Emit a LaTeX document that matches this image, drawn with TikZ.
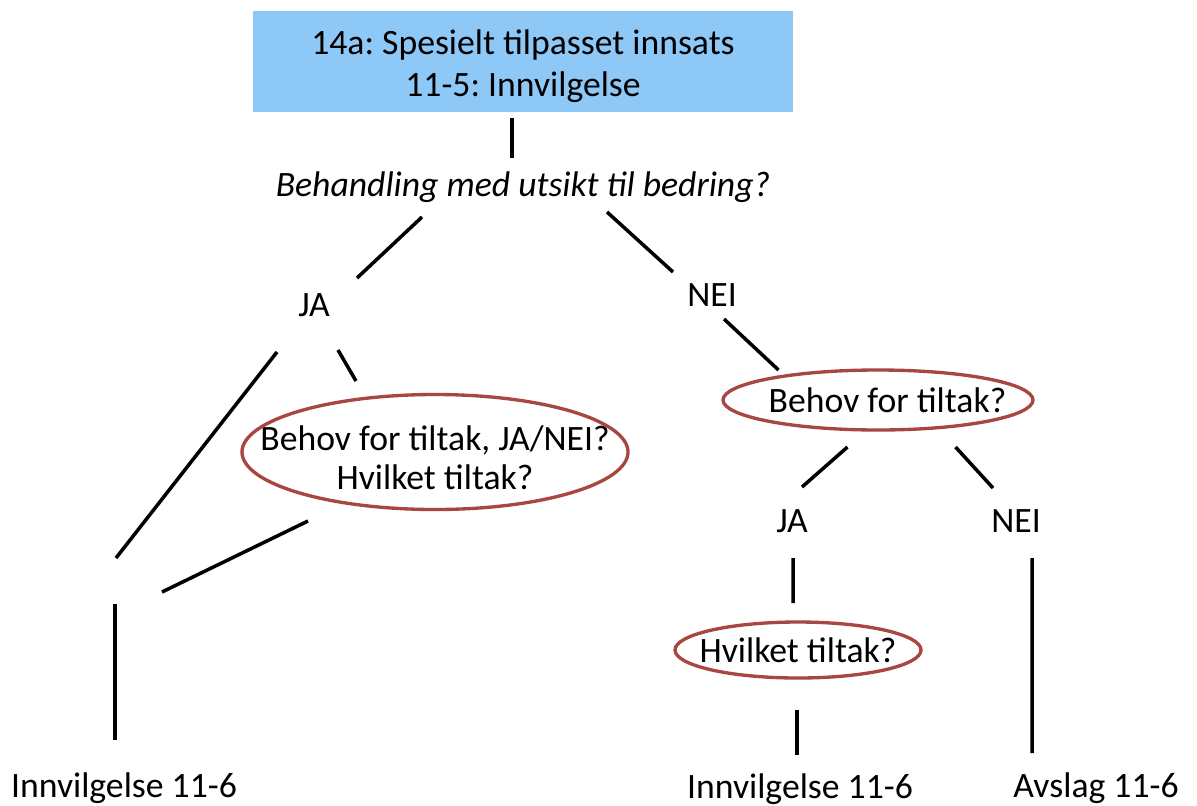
\documentclass[tikz,border=0pt]{standalone}
\usepackage{fontspec}
\setmainfont{Carlito}
\usetikzlibrary{calc,shapes.geometric}
\definecolor{boxblue}{RGB}{142,200,246}
\definecolor{ringred}{RGB}{168,70,66}
\tikzset{
  branch/.style={line width=2pt},
  ring/.style={draw=ringred, line width=1.9pt},
}
\frenchspacing
\begin{document}
\begin{tikzpicture}[every node/.style={font=\fontsize{20.3}{24}\selectfont, align=center}]
\useasboundingbox (0,0) rectangle (23.94,-16.10);

% nodes
\node[fill=boxblue, minimum width=10.8cm, minimum height=2.02cm] (top) at (10.46,-1.22) {};
\node (toptext) at ($(top)+(0,-0.1)$) {14a: Spesielt tilpasset innsats\\11-5: Innvilgelse};
\node (q) at (10.46,-3.74) {\itshape Behandling med utsikt til bedring?};
\node (ja1) at (6.28,-6.10) {JA};
\node (nei1) at (14.24,-5.90) {NEI};
\node[font=\fontsize{20.3}{22}\selectfont] (ell1) at (8.70,-9.16) {Behov for tiltak, JA/NEI?\\Hvilket tiltak?};
\node (ell2) at (17.75,-8.00) {Behov for tiltak?};
\node (ja2) at (15.84,-10.42) {JA};
\node (nei2) at (20.32,-10.42) {NEI};
\node (ell3) at (15.96,-13.00) {Hvilket tiltak?};
\node (inv1) at (2.48,-15.76) {Innvilgelse 11-6};
\node (inv2) at (16.00,-15.78) {Innvilgelse 11-6};
\node (avs) at (21.92,-15.76) {Avslag 11-6};
\coordinate (fork) at (2.30,-11.80);

% rings
\draw[ring] ($(ell1)+(0,0.12)$) ellipse [x radius=3.86, y radius=1.15];
\draw[ring] ($(ell2)+(-0.19,0)$) ellipse [x radius=3.10, y radius=0.60];
\draw[ring] (ell3) ellipse [x radius=2.46, y radius=0.56];

% branches
\draw[branch] ($(top)+(-0.22,-1.14)$) -- ($(q)+(-0.22,0.58)$);
\draw[branch] ($(q)+(-2.02,-0.60)$) -- ($(ja1)+(0.86,0.54)$);
\draw[branch] ($(q)+(1.68,-0.50)$) -- ($(nei1)+(-0.78,0.46)$);
\draw[branch] ($(ja1)+(-0.74,-0.94)$) -- ($(fork)+(0.02,0.64)$);
\draw[branch] ($(ja1)+(0.48,-0.90)$) -- ($(ell1)+(-1.58,1.54)$);
\draw[branch] ($(ell1)+(-2.54,-1.26)$) -- ($(fork)+(0.94,-0.04)$);
\draw[branch] ($(fork)+(0,-0.28)$) -- ($(inv1)+(-0.18,0.96)$);
\draw[branch] ($(nei1)+(0.24,-0.48)$) -- ($(ell2)+(-2.18,0.60)$);
\draw[branch] ($(ell2)+(-0.80,-0.94)$) -- ($(ja2)+(0.20,0.68)$);
\draw[branch] ($(ell2)+(1.36,-0.94)$) -- ($(nei2)+(-0.46,0.66)$);
\draw[branch] ($(ja2)+(0.02,-0.74)$) -- ($(ell3)+(-0.10,0.94)$);
\draw[branch] ($(nei2)+(0.32,-0.74)$) -- ($(avs)+(-1.28,0.70)$);
\draw[branch] ($(ell3)+(-0.02,-1.20)$) -- ($(inv2)+(-0.06,0.68)$);
\end{tikzpicture}
\end{document}
